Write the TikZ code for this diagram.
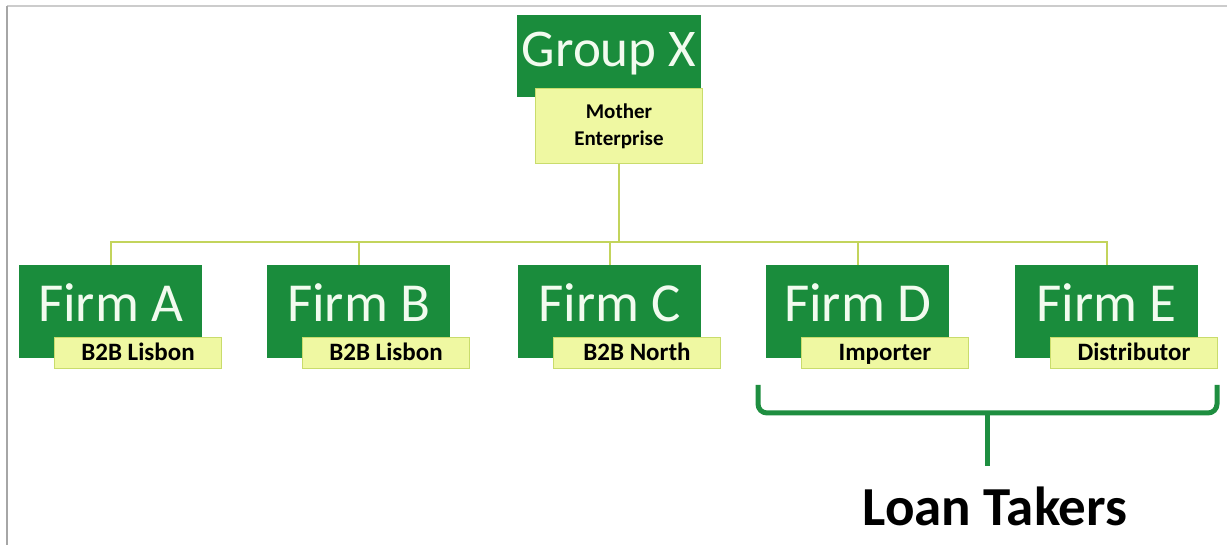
\documentclass[tikz,border=0pt]{standalone}
\usepackage{fontspec}
\setmainfont{Carlito}
\definecolor{dkgreen}{HTML}{1A8C3C}
\definecolor{ltfill}{HTML}{EFF8A2}
\definecolor{ltdraw}{HTML}{C9DC6C}
\definecolor{conn}{HTML}{C3D45C}
\definecolor{bracegreen}{HTML}{1E8E40}
\definecolor{firmtext}{HTML}{F2FBEF}
\tikzset{
  darkbox/.style={fill=dkgreen, draw=none, anchor=north west, minimum width=183pt, minimum height=93pt, inner sep=0pt},
  topbox/.style={fill=dkgreen, draw=none, anchor=north west, minimum width=184pt, minimum height=82pt, inner sep=0pt},
  litebox/.style={fill=ltfill, draw=ltdraw, line width=1pt, anchor=north west, minimum width=167pt, minimum height=31pt, inner sep=0pt},
  firmlbl/.style={anchor=base, text=firmtext, font=\fontsize{55}{60}\selectfont, inner sep=0pt},
  sublbl/.style={anchor=base, text=black, font=\bfseries\fontsize{25}{28}\selectfont, inner sep=0pt},
  connector/.style={draw=conn, line width=2pt},
  bracestyle/.style={draw=bracegreen, line width=5pt, rounded corners=9pt},
}
\begin{document}
\begin{tikzpicture}[x=1pt,y=-1pt]
\useasboundingbox (0,0) rectangle (1227,545);
\fill[white] (0,0) rectangle (1227,545);
\draw[draw=black!20, line width=2pt] (7,6) -- (1227,6);
\draw[draw=black!35, line width=2pt] (7,6) -- (7,545);

% top group
\node[topbox] (gx) at (517,15) {};
\node[anchor=base, text=firmtext, font=\fontsize{53}{58}\selectfont, inner sep=0pt] (gxt) at (609,67) {Group X};
\node[litebox, minimum width=167pt, minimum height=75pt] (me) at (535,88) {};
\node[align=center, text=black, font=\bfseries\fontsize{21}{27}\selectfont, inner sep=0pt] (met) at (me.center) {Mother\\Enterprise};

% firms
\foreach \n/\x in {fa/19, fb/267, fc/518, fd/766, fe/1015}{
  \node[darkbox] (\n) at (\x,265) {};
  \node[litebox] (\n s) at ([xshift=35pt]\n.north west |- 0,337) {};
}
\node[firmlbl] (fat) at (fa.north |- 0,322) {Firm A};
\node[firmlbl] (fbt) at (fb.north |- 0,322) {Firm B};
\node[firmlbl] (fct) at (fc.north |- 0,322) {Firm C};
\node[firmlbl] (fdt) at (fd.north |- 0,322) {Firm D};
\node[firmlbl] (fet) at (fe.north |- 0,322) {Firm E};
\node[sublbl] (fasl) at ([yshift=-8pt]fas.center) {B2B Lisbon};
\node[sublbl] (fbsl) at ([yshift=-8pt]fbs.center) {B2B Lisbon};
\node[sublbl] (fcsl) at ([yshift=-8pt]fcs.center) {B2B North};
\node[sublbl] (fdsl) at ([yshift=-8pt]fds.center) {Importer};
\node[sublbl] (fesl) at ([yshift=-8pt]fes.center) {Distributor};

% connectors
\coordinate (hub) at (me.south |- 0,242);
\draw[connector] (me.south) -- (hub);
\draw[connector] (fa.north) |- (fe.north |- hub) -- (fe.north);
\draw[connector] (fb.north) -- (fb.north |- hub);
\draw[connector] (fc.north) -- (fc.north |- hub);
\draw[connector] (fd.north) -- (fd.north |- hub);

% brace
\coordinate (bl) at (758,385);
\coordinate (br) at (1217,385);
\coordinate (bm) at (987,413);
\coordinate (bs) at (987,466);
\draw[bracestyle] (bl) -- (bl |- bm) -- (br |- bm) -- (br);
\draw[draw=bracegreen, line width=5pt] (bm) -- (bs);
\node[anchor=base, text=black, font=\bfseries\fontsize{55}{60}\selectfont, inner sep=0pt] (lt) at (995,525) {Loan Takers};
\end{tikzpicture}
\end{document}
